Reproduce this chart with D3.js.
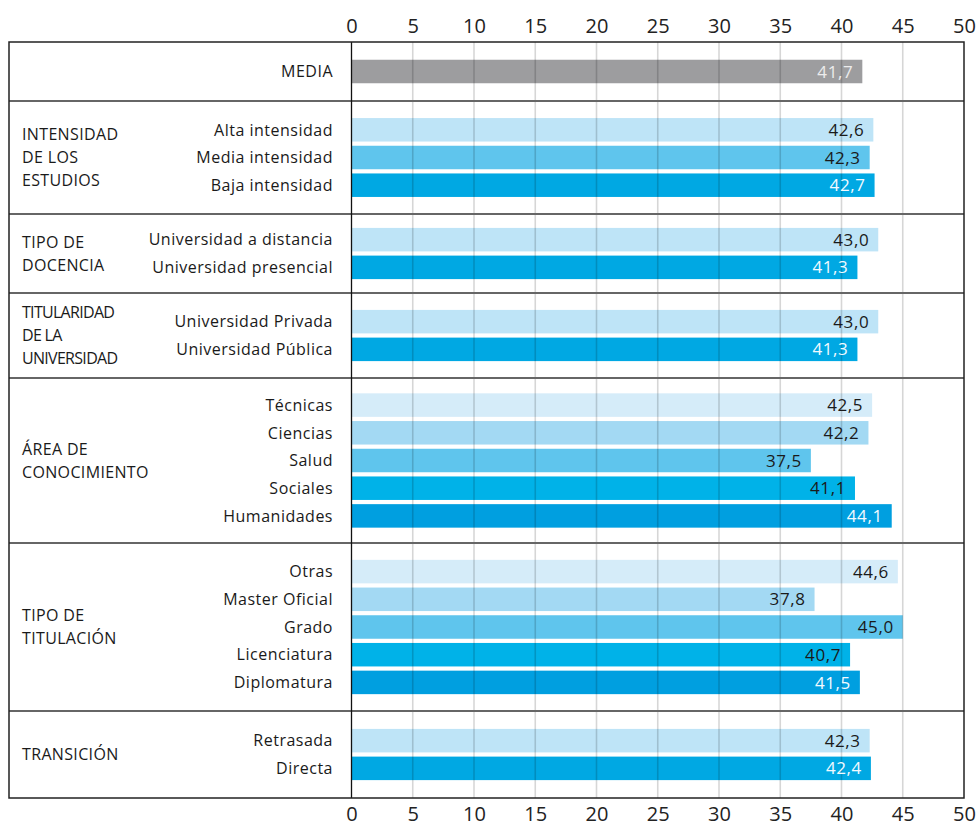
<!DOCTYPE html>
<meta charset="utf-8">
<script src="https://d3js.org/d3.v7.min.js"></script>
<body>
<svg width="980" height="826"></svg>
<style type="text/css">
body{
    margin: 0;
    font-family: 'Open Sans', sans-serif;
    background: #fff;
}
text{
    fill: #1a1a1a;
}
</style>
<script>
    // ---- data ----
    const groupNames = [
        [],
        ['INTENSIDAD', 'DE LOS', 'ESTUDIOS'],
        ['TIPO DE', 'DOCENCIA'],
        ['TITULARIDAD', 'DE LA', 'UNIVERSIDAD'],
        ['ÁREA DE', 'CONOCIMIENTO'],
        ['TIPO DE', 'TITULACIÓN'],
        ['TRANSICIÓN']
    ];
    const categories = [
        'MEDIA',
        'Alta intensidad', 'Media intensidad', 'Baja intensidad',
        'Universidad a distancia', 'Universidad presencial',
        'Universidad Privada', 'Universidad Pública',
        'Técnicas', 'Ciencias', 'Salud', 'Sociales', 'Humanidades',
        'Otras', 'Master Oficial', 'Grado', 'Licenciatura', 'Diplomatura',
        'Retrasada', 'Directa'
    ];
    const values = [
        41.7,
        42.6, 42.3, 42.7,
        43.0, 41.3,
        43.0, 41.3,
        42.5, 42.2, 37.5, 41.1, 44.1,
        44.6, 37.8, 45.0, 40.7, 41.5,
        42.3, 42.4
    ];
    const groupOf = [0, 1, 1, 1, 2, 2, 3, 3, 4, 4, 4, 4, 4, 5, 5, 5, 5, 5, 6, 6];
    const ticks = [0, 5, 10, 15, 20, 25, 30, 35, 40, 45, 50];

    // ---- styles: shades by group size ----
    const shades = {
        1: [['#9d9d9f', '#ececec']],
        2: [['#bee4f7', '#1a1a1a'], ['#00a8e3', '#f2faff']],
        3: [['#bee4f7', '#1a1a1a'], ['#5fc5ed', '#1a1a1a'], ['#00a8e3', '#f2faff']],
        5: [['#d5ecf9', '#1a1a1a'], ['#a3d9f3', '#1a1a1a'], ['#5fc5ed', '#1a1a1a'],
            ['#00b2e8', '#1a1a1a'], ['#009fe0', '#f2faff']]
    };
    // extra vertical space in each block (layout)
    const groupPad = [31.3, 29.9, 23.6, 29.6, 26.5, 29.5, 31.6];

    const frameL = 9, frameR = 964, frameT = 42, frameB = 798;
    const step = 27.7, barH = 23.5;

    const x = d3.scaleLinear().domain([0, 50]).range([351.5, 964]);

    const rows = categories.map((c, i) => ({name: c, value: values[i], group: groupOf[i]}));
    const groups = groupNames.map((g, gi) => ({lines: g, rows: rows.filter(r => r.group === gi)}));

    let yCur = frameT;
    groups.forEach((g, gi) => {
        const pad = groupPad[gi];
        g.y0 = yCur;
        g.y1 = yCur + g.rows.length * step + pad;
        const band = d3.scaleBand()
            .domain(g.rows.map(r => r.name))
            .range([g.y0 + pad / 2, g.y1 - pad / 2]);
        const pal = shades[g.rows.length];
        g.rows.forEach((r, i) => {
            r.cy = band(r.name) + band.bandwidth() / 2;
            r.fill = pal[i][0];
            r.labelColor = pal[i][1];
        });
        yCur = g.y1;
    });

    const svg = d3.select('svg');

    // bars
    svg.append('g').selectAll('rect').data(rows).enter().append('rect')
        .attr('x', x(0))
        .attr('y', d => d.cy - barH / 2)
        .attr('width', d => x(d.value) - x(0))
        .attr('height', barH)
        .attr('fill', d => d.fill);

    // grid lines over bars
    svg.append('g').selectAll('line').data(ticks.filter(t => t > 0 && t < 50)).enter().append('line')
        .attr('x1', d => x(d)).attr('x2', d => x(d))
        .attr('y1', frameT).attr('y2', frameB)
        .attr('stroke', 'rgba(0,0,0,0.16)')
        .attr('stroke-width', 1.6);

    // value labels
    svg.append('g').selectAll('text').data(rows).enter().append('text')
        .attr('x', d => x(d.value) - 9)
        .attr('y', d => d.cy)
        .attr('dy', '0.36em')
        .attr('text-anchor', 'end')
        .style('font-size', '17px')
        .style('letter-spacing', '0.6px')
        .style('fill', d => d.labelColor)
        .text(d => d3.format('.1f')(d.value).replace('.', ','));

    // category labels
    svg.append('g').selectAll('text').data(rows).enter().append('text')
        .attr('x', 333)
        .attr('y', d => d.cy)
        .attr('dy', '0.36em')
        .attr('text-anchor', 'end')
        .style('font-size', '16px')
        .style('letter-spacing', '0.5px')
        .text(d => d.name);

    // group labels
    const lineH = 23;
    groups.forEach(g => {
        if (!g.lines.length) return;
        const mid = (g.y0 + g.y1) / 2;
        const t = svg.append('text')
            .attr('x', 22)
            .style('font-size', '16px')
            .style('letter-spacing', g.lines[0] === 'TITULARIDAD' ? '-0.7px' : '0.35px');
        g.lines.forEach((l, i) => {
            t.append('tspan')
                .attr('x', 22)
                .attr('y', mid + (i - (g.lines.length - 1) / 2) * lineH)
                .attr('dy', '0.36em')
                .text(l);
        });
    });

    // group separators
    svg.append('g').selectAll('line').data(groups.slice(0, -1)).enter().append('line')
        .attr('x1', frameL).attr('x2', frameR)
        .attr('y1', d => d.y1).attr('y2', d => d.y1)
        .attr('stroke', '#666')
        .attr('stroke-width', 2);

    // zero line
    svg.append('line')
        .attr('x1', x(0)).attr('x2', x(0))
        .attr('y1', frameT).attr('y2', frameB)
        .attr('stroke', '#111')
        .attr('stroke-width', 1.3);

    // outer frame
    svg.append('rect')
        .attr('x', frameL).attr('y', frameT)
        .attr('width', frameR - frameL).attr('height', frameB - frameT)
        .attr('fill', 'none')
        .attr('stroke', '#222')
        .attr('stroke-width', 1.5);

    // axes, top and bottom
    const axisTop = d3.axisTop(x).tickValues(ticks).tickSize(0).tickPadding(9);
    const axisBottom = d3.axisBottom(x).tickValues(ticks).tickSize(0).tickPadding(9);

    svg.append('g').attr('transform', `translate(0,${frameT})`).call(axisTop)
        .call(g => g.select('.domain').remove())
        .selectAll('text').style('font-size', '20px').style('font-family', 'Open Sans').style('fill', '#222');
    svg.append('g').attr('transform', `translate(0,${frameB})`).call(axisBottom)
        .call(g => g.select('.domain').remove())
        .selectAll('text').style('font-size', '20px').style('font-family', 'Open Sans').style('fill', '#222');
</script>
</body>
